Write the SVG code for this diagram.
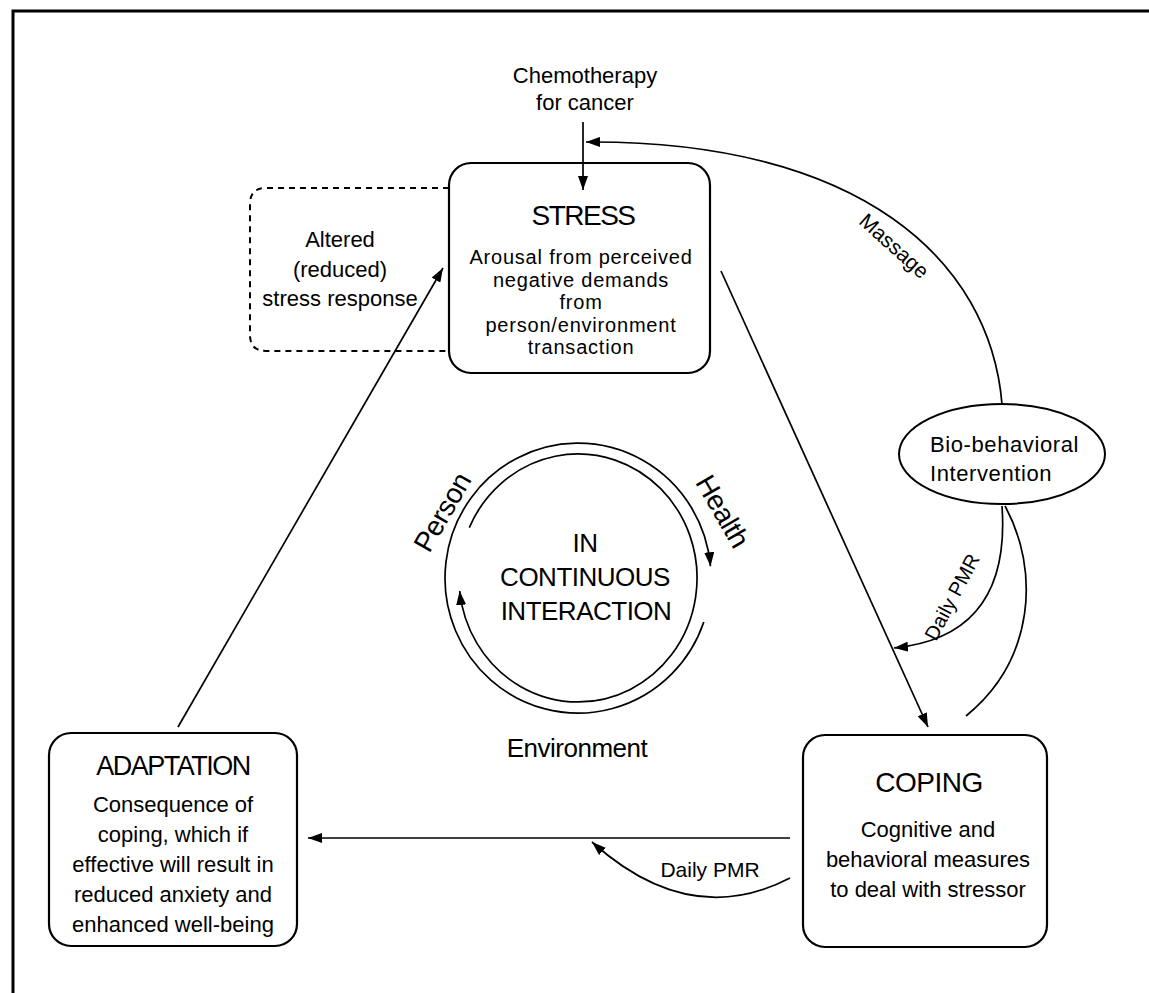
<svg xmlns="http://www.w3.org/2000/svg" width="1149" height="993" viewBox="0 0 1149 993">
<defs>
<style>
text{font-family:"Liberation Sans",Arial,sans-serif;fill:#000;}
.b{font-size:22px;text-anchor:middle;}
.s{font-size:20px;text-anchor:middle;letter-spacing:0.8px;}
.t{font-size:27px;text-anchor:middle;letter-spacing:-1.5px;}
.c{font-size:26px;text-anchor:middle;letter-spacing:-0.5px;}
.box{fill:#fff;stroke:#000;stroke-width:2.2;}
.ln{fill:none;stroke:#000;stroke-width:1.7;}
</style>
<marker id="arr" viewBox="0 0 14 10" refX="14" refY="5" markerWidth="14" markerHeight="10" markerUnits="userSpaceOnUse" orient="auto"><path d="M0,0 L14,5 L0,10 z" fill="#000"/></marker>
</defs>
<rect width="1149" height="993" fill="#fff"/>
<path d="M13 993 V11 H1149" fill="none" stroke="#000" stroke-width="3"/>

<g id="altered">
<path d="M449 188 H266 Q250 188 250 204 V335 Q250 351 266 351 H449" fill="none" stroke="#000" stroke-width="2" stroke-dasharray="6 5"/>
<text class="b" x="340" y="247">Altered</text>
<text class="b" x="340" y="277">(reduced)</text>
<text class="b" x="340" y="306">stress response</text>
</g>

<g id="stress">
<rect class="box" x="449" y="163" width="261" height="210" rx="22"/>
<text class="t" x="583" y="225" style="font-size:28px">STRESS</text>
<text class="s" x="581" y="264">Arousal from perceived</text>
<text class="s" x="581" y="286.5">negative demands</text>
<text class="s" x="581" y="309">from</text>
<text class="s" x="581" y="331.5">person/environment</text>
<text class="s" x="581" y="354">transaction</text>
</g>

<g id="intervention">
<ellipse cx="1002" cy="454" rx="103" ry="50" fill="#fff" stroke="#000" stroke-width="2"/>
<text x="930" y="452" style="font-size:22px;letter-spacing:0.6px">Bio-behavioral</text>
<text x="930" y="481" style="font-size:22px;letter-spacing:0.6px">Intervention</text>
</g>

<g id="interaction">
<path class="ln" d="M703.8 622 A133 135 0 1 1 710.5 566.2" marker-end="url(#arr)"/>
<path class="ln" d="M469.3 527.6 A119 124 0 1 1 459.7 591" marker-end="url(#arr)"/>
<text class="c" x="585" y="552">IN</text>
<text class="c" x="585" y="586">CONTINUOUS</text>
<text class="c" x="586" y="620">INTERACTION</text>
<text class="c" transform="translate(442 512) rotate(-60)" y="10" style="font-size:28px">Person</text>
<text class="c" transform="translate(723 511) rotate(60)" y="10" style="font-size:28px">Health</text>
<text class="c" x="577" y="757">Environment</text>
</g>

<g id="coping">
<rect class="box" x="803" y="735" width="244" height="212" rx="22"/>
<text class="t" x="929" y="792" style="font-size:28px;letter-spacing:-0.5px">COPING</text>
<text class="b" x="928" y="837">Cognitive and</text>
<text class="b" x="928" y="867">behavioral measures</text>
<text class="b" x="928" y="897">to deal with stressor</text>
</g>

<g id="adaptation">
<rect class="box" x="49" y="733" width="248" height="213" rx="22"/>
<text class="t" x="173" y="775">ADAPTATION</text>
<text class="b" x="173" y="812">Consequence of</text>
<text class="b" x="173" y="842">coping, which if</text>
<text class="b" x="173" y="872">effective will result in</text>
<text class="b" x="173" y="902">reduced anxiety and</text>
<text class="b" x="173" y="932">enhanced well-being</text>
</g>

<g id="connectors">
<path class="ln" d="M583 122 V190" marker-end="url(#arr)"/>
<path class="ln" d="M1002 404 C990 260 860 140 586 142" marker-end="url(#arr)"/>
<path class="ln" d="M721 271 L928 727" marker-end="url(#arr)"/>
<path class="ln" d="M1002 506 C1008 590 975 640 894 648" marker-end="url(#arr)"/>
<path class="ln" d="M1005 506 C1040 570 1035 660 966 716"/>
<path class="ln" d="M790 838 H308" marker-end="url(#arr)"/>
<path class="ln" d="M790 878 Q690 930 592 842" marker-end="url(#arr)"/>
<path class="ln" d="M178 727 L443 268" marker-end="url(#arr)"/>
<text class="b" transform="translate(894 246) rotate(42)" y="7" style="font-size:21px">Massage</text>
<text class="b" transform="translate(952 597) rotate(-62)" y="7" style="font-size:20px">Daily PMR</text>
<text class="b" x="710" y="877" style="font-size:21px">Daily PMR</text>
<text class="b" x="585" y="83">Chemotherapy</text>
<text class="b" x="585" y="110">for cancer</text>
</g>
</svg>
